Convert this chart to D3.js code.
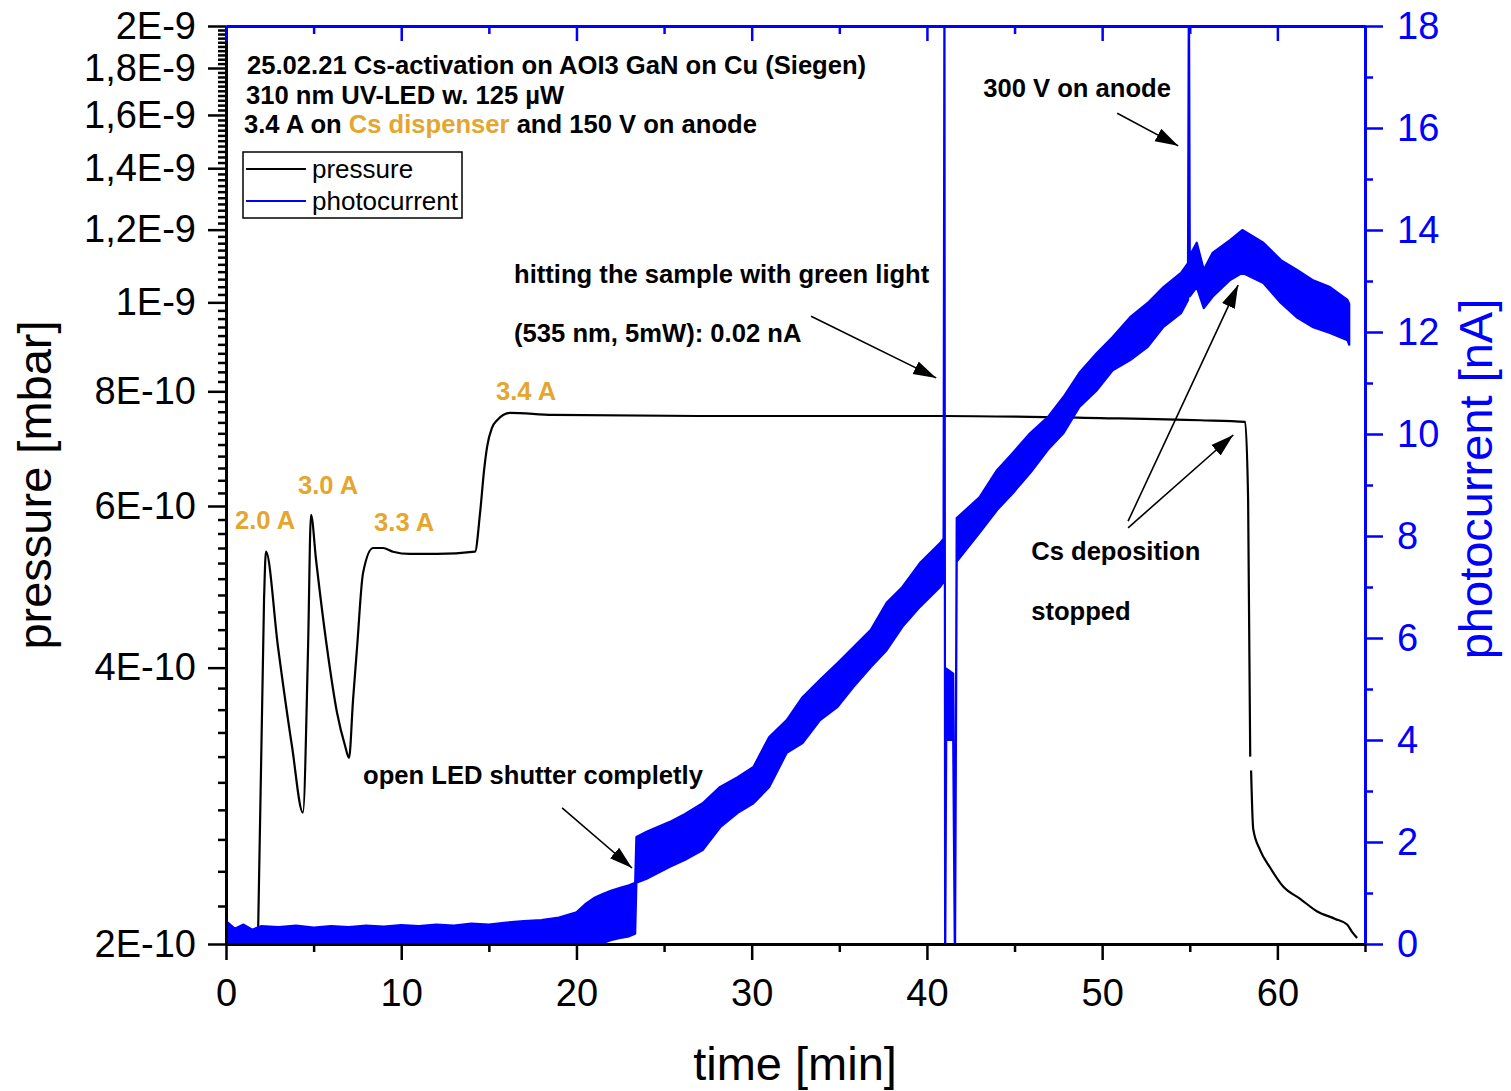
<!DOCTYPE html>
<html>
<head>
<meta charset="utf-8">
<script src="https://cdn.jsdelivr.net/npm/d3@7"></script>
<style>
  body { margin: 0; background: #fff; }
  text { font-family: Arial, "Liberation Sans", sans-serif; }
</style>
</head>
<body>
<svg id="chart" width="1511" height="1091"></svg>
<script>
// pressure [mbar] vs time [min] (null = gap in the record)
const pressureTime = [1.82, 2.17, 2.28, 2.97, 3.77, 4.39, 4.68, 4.85, 5.14, 5.76, 6.34, 6.79, 7.02,
  7.25, 7.48, 7.82, 8.39, 8.96, 9.53, 10.5, 12.04, 14.21, 14.5, 14.73, 14.9, 15.18, 15.47, 16.21,
  18.66, 27.05, 40.9, 49.9, 55.6, 58.16, 58.33, 58.45, 58.47, 58.5, 58.62, 59.02, 59.6, 60.33,
  61.3, 62.27, 63.3, 63.98, 64.27, 64.55];
const pressureValue = [2.0e-10, 4.74e-10, 5.35e-10, 4.21e-10, 3.28e-10, 2.78e-10, 4.18e-10, 5.87e-10,
  5.24e-10, 4.21e-10, 3.57e-10, 3.29e-10, 3.19e-10, 3.69e-10, 4.21e-10, 5.07e-10, 5.40e-10, 5.40e-10,
  5.35e-10, 5.32e-10, 5.32e-10, 5.35e-10, 5.90e-10, 6.57e-10, 6.96e-10, 7.30e-10, 7.44e-10, 7.58e-10,
  7.54e-10, 7.52e-10, 7.52e-10, 7.48e-10, 7.44e-10, 7.41e-10, 6.09e-10, 3.20e-10, null, 3.09e-10,
  2.67e-10, 2.53e-10, 2.42e-10, 2.31e-10, 2.24e-10, 2.17e-10, 2.13e-10, 2.10e-10, 2.06e-10, 2.03e-10];

// photocurrent [nA]: the trace is very noisy, so it is kept as lower / upper envelope
const photoTime = [0, 0.5, 1, 1.5, 2, 3, 4, 5, 6, 7, 8, 9, 10, 11, 12, 13, 14, 15, 16, 17, 18, 19, 20,
  20.5, 21, 21.5, 22, 22.5, 23, 23.35, 23.42, 24, 25.3, 26.2, 27.2, 28.2, 29.2, 30.1, 31, 32, 32.9,
  33.9, 34.9, 35.8, 36.8, 37.7, 38.6, 39.6, 40.75, 40.95, 41, 41.04, 41.1, 41.5, 41.6, 41.7, 43, 44,
  44.9, 45.9, 46.9, 47.8, 48.7, 49.7, 50.6, 51.6, 52.6, 53.5, 54.5, 54.9, 54.95, 55, 55.4, 55.8, 56.3,
  57.3, 58, 59.2, 60.2, 61.1, 62, 63, 64, 64.1];
const photoLow = [0, 0, 0, 0, 0, 0, 0, 0, 0, 0, 0, 0, 0, 0, 0, 0, 0, 0, 0, 0, 0, 0, 0,
  0, 0, 0.02, 0.08, 0.12, 0.15, 0.2, 1.2, 1.28, 1.51, 1.65, 1.84, 2.29, 2.57, 2.76, 3.08, 3.75, 3.94,
  4.39, 4.65, 5.04, 5.43, 5.76, 6.22, 6.61, 7.0, 7.1, 19, -0.5, 4.0, 4.0, -0.5, 7.5, 8.06, 8.51,
  8.84, 9.24, 9.69, 10.02, 10.53, 10.86, 11.25, 11.45, 11.71, 12.1, 12.37, 12.63, 19, 12.7, 12.88, 12.47, 12.69,
  13.02, 13.16, 12.96, 12.57, 12.29, 12.1, 11.98, 11.84, 11.75];
const photoHigh = [0.45, 0.30, 0.38, 0.28, 0.35, 0.33, 0.36, 0.32, 0.35, 0.33, 0.36, 0.34, 0.37, 0.35,
  0.38, 0.36, 0.40, 0.38, 0.42, 0.45, 0.47, 0.52, 0.62, 0.78, 0.90, 0.98, 1.05, 1.10, 1.15, 1.2, 2.1,
  2.2, 2.39, 2.55, 2.76, 3.08, 3.27, 3.47, 4.06, 4.39, 4.84, 5.18, 5.51, 5.82, 6.16, 6.69, 7.0, 7.47,
  7.86, 7.95, 19, -0.5, 5.4, 5.3, -0.5, 8.35, 8.76, 9.29, 9.63, 10.02, 10.33, 10.73, 11.2, 11.59,
  11.9, 12.29, 12.57, 12.88, 13.16, 13.35, 19, 13.5, 13.75, 13.22, 13.55, 13.8, 14.0, 13.75, 13.41,
  13.22, 13.02, 12.88, 12.63, 12.55];

// axis ticks
const timeTicks = [0, 10, 20, 30, 40, 50, 60];
const timeMinor = [5, 15, 25, 35, 45, 55, 65];
const pressureTicks = [2e-10, 4e-10, 6e-10, 8e-10, 1e-9, 1.2e-9, 1.4e-9, 1.6e-9, 1.8e-9, 2e-9];
const pressureLabels = ['2E-10', '4E-10', '6E-10', '8E-10', '1E-9', '1,2E-9', '1,4E-9', '1,6E-9', '1,8E-9', '2E-9'];
const currentTicks = [0, 2, 4, 6, 8, 10, 12, 14, 16, 18];
const currentMinor = [1, 3, 5, 7, 9, 11, 13, 15, 17];

// annotations, in (time, photocurrent) units
const noteText = ['hitting the sample with green light', '(535 nm, 5mW): 0.02 nA', '300 V on anode',
  'open LED shutter completly', 'Cs deposition', 'stopped'];
const notePos = [[16.44, 12.96], [16.44, 11.8], [43.21, 16.61], [7.82, 3.14], [45.95, 7.53], [45.95, 6.35]];
const currentText = ['2.0 A', '3.0 A', '3.3 A', '3.4 A'];
const currentPos = [[0.51, 8.14], [4.11, 8.82], [8.45, 8.1], [15.41, 10.67]];
const arrowFrom = [[33.39, 12.31], [50.86, 16.29], [19.18, 2.67], [51.48, 8.29], [51.48, 8.16]];
const arrowTo = [[40.53, 11.1], [54.34, 15.65], [23.17, 1.49], [57.76, 12.92], [57.48, 9.98]];

const orange = '#E5A630', blue = '#0000FF';

const svg = d3.select('#chart');
const plotL = 226, plotR = 1365, plotT = 26, plotB = 944;

const x = d3.scaleLinear().domain([0, 65]).range([plotL, plotR]);
const yP = d3.scaleLog().domain([2e-10, 2e-9]).range([plotB, plotT]);
const yI = d3.scaleLinear().domain([0, 18]).range([plotB, plotT]);

svg.append('rect').attr('width', 1511).attr('height', 1091).attr('fill', '#fff');

svg.append('clipPath').attr('id', 'plot')
  .append('rect').attr('x', plotL).attr('y', plotT)
  .attr('width', plotR - plotL).attr('height', plotB - plotT);

// pressure
const pressure = pressureTime.map((t, i) => [t, pressureValue[i]]);
svg.append('path')
  .attr('clip-path', 'url(#plot)')
  .attr('d', d3.line().defined(d => d[1] != null).curve(d3.curveMonotoneX)
    .x(d => x(d[0])).y(d => yP(d[1]))(pressure))
  .attr('fill', 'none').attr('stroke', '#000').attr('stroke-width', 2.2);

// photocurrent band
const photo = photoTime.map((t, i) => [t, photoLow[i], photoHigh[i]]);
svg.append('path')
  .attr('clip-path', 'url(#plot)')
  .attr('d', d3.area().x(d => x(d[0])).y0(d => yI(d[1])).y1(d => yI(d[2]))(photo))
  .attr('fill', blue).attr('stroke', blue).attr('stroke-width', 2.2).attr('stroke-linejoin', 'round');

// axes
function styleAxis(g, color, size) {
  g.attr('font-family', null);
  g.select('.domain').attr('stroke', color).attr('stroke-width', 3);
  g.selectAll('.tick line').attr('stroke', color).attr('stroke-width', 2.5);
  g.selectAll('.tick text').attr('fill', color).attr('font-size', size);
}

// left, pressure (log)
const minorP = d3.range(1, 90).map(i => 2e-10 + i * 2e-11)
  .filter(v => !pressureTicks.some(m => Math.abs(m - v) < 1e-12));
svg.append('g').attr('transform', `translate(${plotL},0)`)
  .call(d3.axisLeft(yP).tickValues(minorP).tickSize(8).tickSizeOuter(0).tickFormat(''))
  .call(g => styleAxis(g, '#000', 38));
svg.append('g').attr('transform', `translate(${plotL},0)`)
  .call(d3.axisLeft(yP).tickValues(pressureTicks).tickSize(18).tickSizeOuter(0).tickPadding(12)
    .tickFormat((d, i) => pressureLabels[i]))
  .call(g => styleAxis(g, '#000', 38));

// right, photocurrent
svg.append('g').attr('transform', `translate(${plotR},0)`)
  .call(d3.axisRight(yI).tickValues(currentMinor).tickSize(8).tickSizeOuter(0).tickFormat(''))
  .call(g => styleAxis(g, blue, 38));
svg.append('g').attr('transform', `translate(${plotR},0)`)
  .call(d3.axisRight(yI).tickValues(currentTicks).tickSize(18).tickSizeOuter(0).tickPadding(14))
  .call(g => styleAxis(g, blue, 38));

// top (inward ticks, no labels)
svg.append('g').attr('transform', `translate(0,${plotT})`)
  .call(d3.axisBottom(x).tickValues(timeMinor).tickSize(8).tickSizeOuter(0).tickFormat(''))
  .call(g => styleAxis(g, blue, 38));
svg.append('g').attr('transform', `translate(0,${plotT})`)
  .call(d3.axisBottom(x).tickValues(timeTicks).tickSize(15).tickSizeOuter(0).tickFormat(''))
  .call(g => styleAxis(g, blue, 38));

// bottom, time
svg.append('g').attr('transform', `translate(0,${plotB})`)
  .call(d3.axisBottom(x).tickValues(timeMinor).tickSize(8).tickSizeOuter(0).tickFormat(''))
  .call(g => styleAxis(g, '#000', 38));
svg.append('g').attr('transform', `translate(0,${plotB})`)
  .call(d3.axisBottom(x).tickValues(timeTicks).tickSize(16).tickSizeOuter(0).tickPadding(19))
  .call(g => styleAxis(g, '#000', 38));

// axis titles
svg.append('text').attr('x', 795).attr('y', 1080).attr('text-anchor', 'middle')
  .attr('font-size', 47).text('time [min]');
svg.append('text').attr('transform', 'translate(51,485) rotate(-90)').attr('text-anchor', 'middle')
  .attr('font-size', 47).text('pressure [mbar]');
svg.append('text').attr('transform', 'translate(1492,479) rotate(-90)').attr('text-anchor', 'middle')
  .attr('font-size', 47).attr('fill', blue).text('photocurrent [nA]');

// header text
const head = svg.append('g').attr('font-size', 25.6).attr('font-weight', 'bold');
head.append('text').attr('x', 247).attr('y', 74).text('25.02.21 Cs-activation on AOI3 GaN on Cu (Siegen)');
head.append('text').attr('x', 246).attr('y', 104).text('310 nm UV-LED w. 125 µW');
const l3 = head.append('text').attr('x', 244).attr('y', 133);
l3.append('tspan').text('3.4 A on ');
l3.append('tspan').attr('fill', orange).text('Cs dispenser');
l3.append('tspan').text(' and 150 V on anode');

// legend
const leg = svg.append('g');
leg.append('rect').attr('x', 243).attr('y', 152).attr('width', 219).attr('height', 66)
  .attr('fill', '#fff').attr('stroke', '#000').attr('stroke-width', 1.5);
[['pressure', '#000', 169], ['photocurrent', blue, 201]].forEach(([name, col, yy]) => {
  leg.append('line').attr('x1', 246).attr('x2', 306).attr('y1', yy).attr('y2', yy)
    .attr('stroke', col).attr('stroke-width', 2.2);
  leg.append('text').attr('x', 312).attr('y', yy + 9).attr('font-size', 26).text(name);
});

// annotations
svg.append('defs').append('marker').attr('id', 'head')
  .attr('markerUnits', 'userSpaceOnUse').attr('markerWidth', 24).attr('markerHeight', 16)
  .attr('refX', 23).attr('refY', 8).attr('orient', 'auto')
  .append('path').attr('d', 'M0,1 L23,8 L0,15 Z').attr('fill', '#000');

arrowFrom.forEach((f, i) => {
  svg.append('line')
    .attr('x1', x(f[0])).attr('y1', yI(f[1]))
    .attr('x2', x(arrowTo[i][0])).attr('y2', yI(arrowTo[i][1]))
    .attr('stroke', '#000').attr('stroke-width', 1.6).attr('marker-end', 'url(#head)');
});

const notes = svg.append('g').attr('font-size', 25.6).attr('font-weight', 'bold');
noteText.forEach((s, i) => {
  notes.append('text').attr('x', x(notePos[i][0])).attr('y', yI(notePos[i][1])).text(s);
});
currentText.forEach((s, i) => {
  notes.append('text').attr('x', x(currentPos[i][0])).attr('y', yI(currentPos[i][1]))
    .attr('fill', orange).text(s);
});
</script>
</body>
</html>
